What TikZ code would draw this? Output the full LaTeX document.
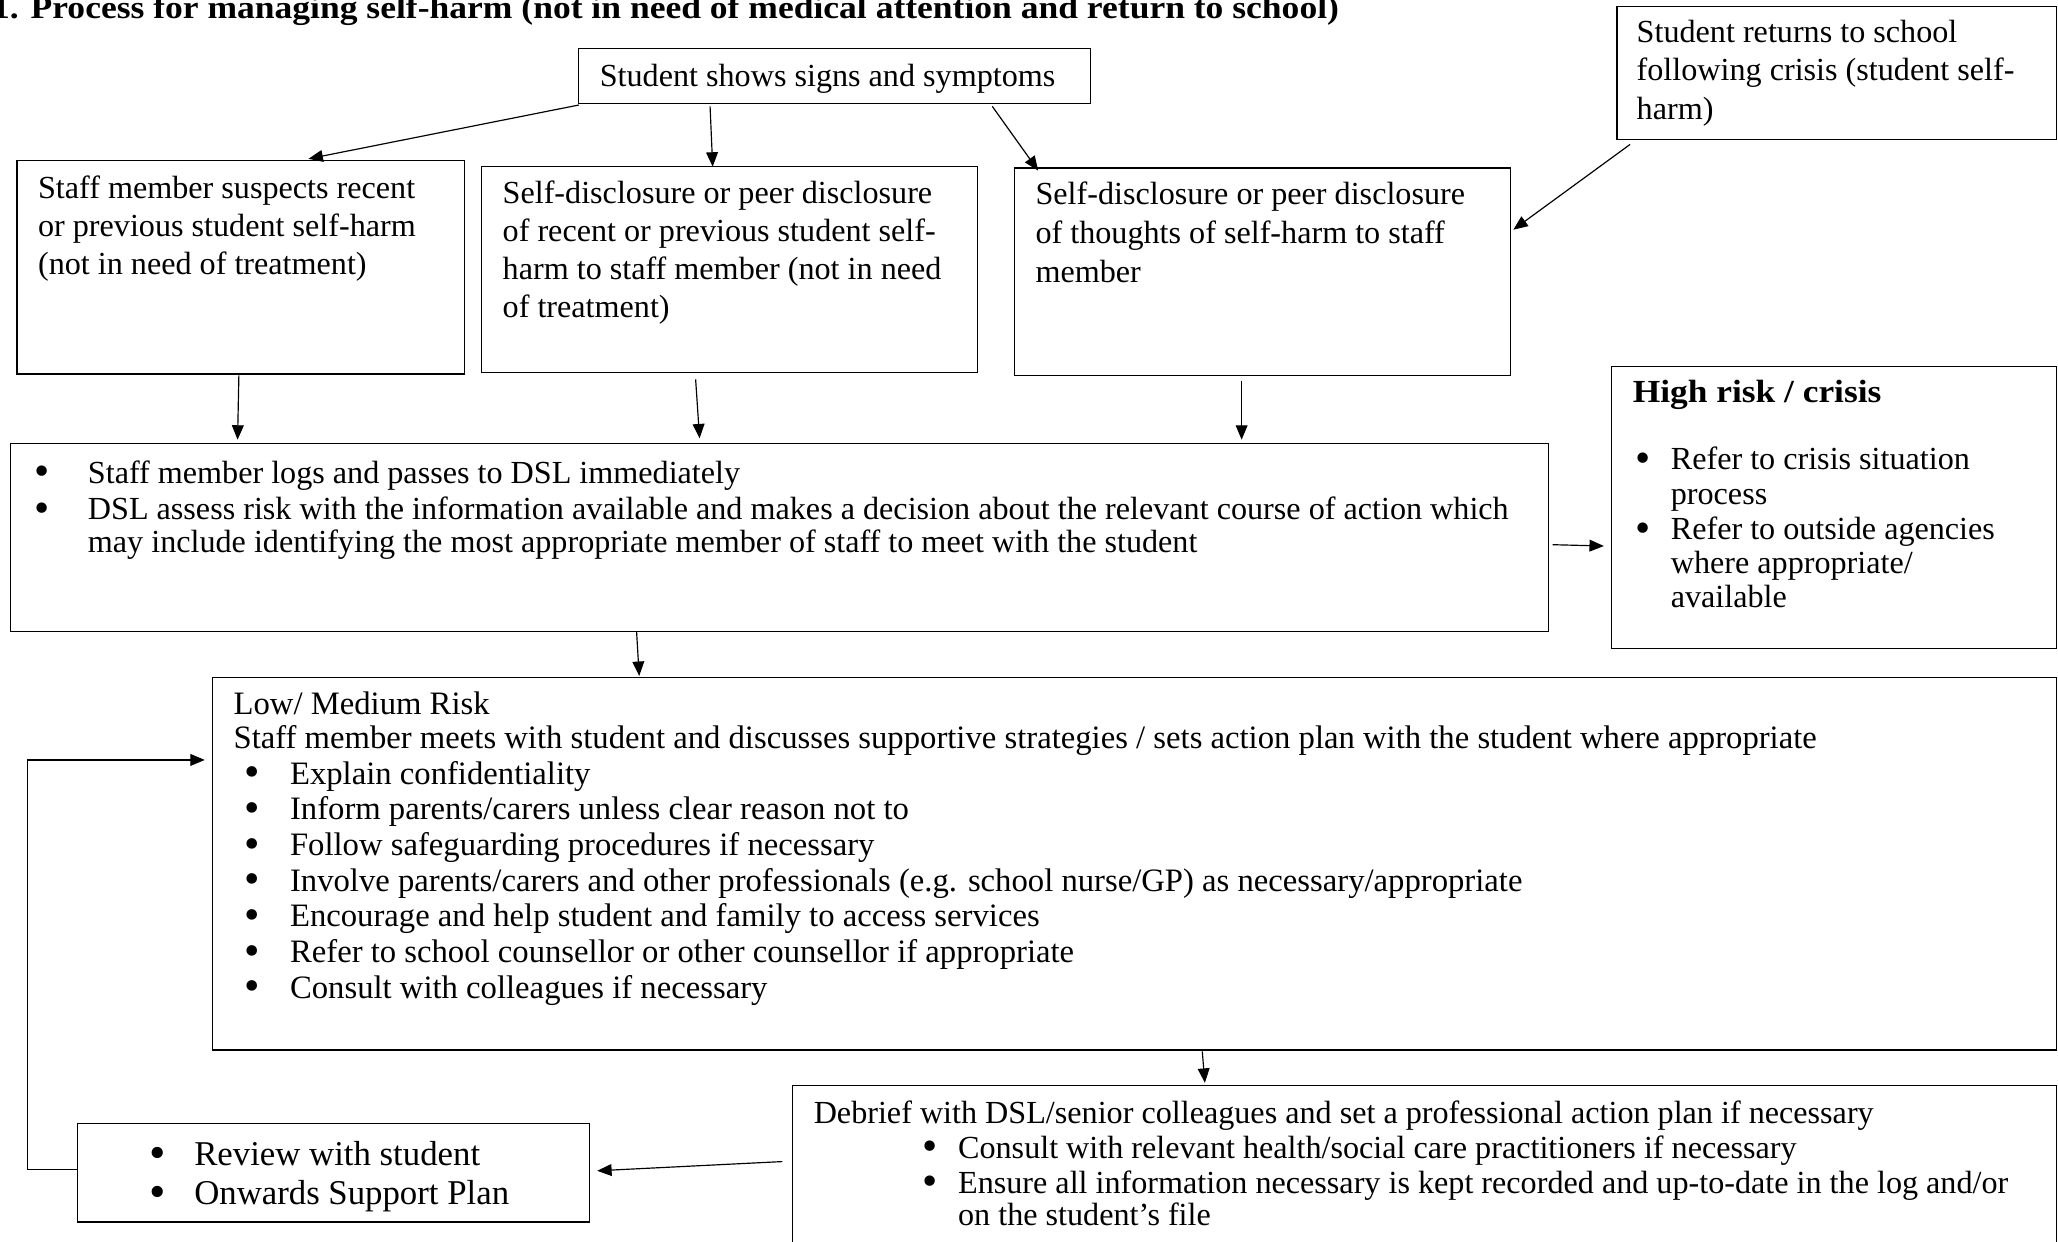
\documentclass[tikz,border=0pt]{standalone}
\usepackage{fontspec}
\usepackage{graphicx}
\setmainfont{Liberation Serif}
\usetikzlibrary{arrows.meta}
\newcommand\fst{\rule{0pt}{20pt}}
\newcommand\bl[1]{\makebox[#1][l]{\smash{\raisebox{-2pt}{\scalebox{1.35}{\textbullet}}}}}
\begin{document}
\begin{tikzpicture}[x=1pt,y=-1pt,
  box/.style={draw=black,line width=0.9pt,inner sep=0pt,outer sep=0pt,anchor=north west},
  txt/.style={anchor=north west,inner sep=0pt,outer sep=0pt,align=left},
  arr/.style={line width=0.9pt,-{Triangle[length=11pt,width=9pt]}},
  plain/.style={line width=0.9pt}]
\useasboundingbox[fill=white] (0,0) rectangle (1568,946);

% title
\node[txt,font=\bfseries\fontsize{24.5}{29}\selectfont] (title) at (-6,-6) {\fst\scalebox{1.105}[1]{1. Process for managing self-harm (not in need of medical attention and return to school)}};

% boxes
\node[box,minimum width=390pt,minimum height=42pt] (A) at (441,37) {};
\node[box,minimum width=335pt,minimum height=101pt] (R) at (1232,5) {};
\node[box,minimum width=341pt,minimum height=163pt] (B1) at (13,122) {};
\node[box,minimum width=378pt,minimum height=157pt] (B2) at (367,127) {};
\node[box,minimum width=378pt,minimum height=158pt] (B3) at (773,128) {};
\node[box,minimum width=1172pt,minimum height=143pt] (C) at (8,338) {};
\node[box,minimum width=339pt,minimum height=215pt] (H) at (1228,279) {};
\node[box,minimum width=1405pt,minimum height=284pt] (L) at (162,516) {};
\node[box,minimum width=963pt,minimum height=140pt] (D) at (604,827) {};
\node[box,minimum width=390pt,minimum height=75pt] (V) at (59,856) {};

% texts
\node[txt,font=\fontsize{24.5}{29}\selectfont] (tA) at (457,46) {\fst Student shows signs and symptoms};
\node[txt,font=\fontsize{24.5}{29.5}\selectfont] (tR) at (1247,12) {\fst Student returns to school\\following crisis (student self-\\harm)};
\node[txt,font=\fontsize{24.5}{29}\selectfont] (tB1) at (29,131) {\fst Staff member suspects recent\\or previous student self-harm\\(not in need of treatment)};
\node[txt,font=\fontsize{24.5}{29}\selectfont] (tB2) at (383,135) {\fst Self-disclosure or peer disclosure\\of recent or previous student self-\\harm to staff member (not in need\\of treatment)};
\node[txt,font=\fontsize{24.5}{29.5}\selectfont] (tB3) at (789,136) {\fst Self-disclosure or peer disclosure\\of thoughts of self-harm to staff\\member};
\node[txt,font=\fontsize{24.5}{25}\selectfont] (tC) at (26,348) {\fst\bl{41pt}Staff member logs and passes to DSL immediately\\[3pt]
\bl{41pt}DSL assess risk with the information available and makes a decision about the relevant course of action which\\
\hspace*{41pt}may include identifying the most appropriate member of staff to meet with the student};
\node[txt,font=\fontsize{24.5}{26}\selectfont] (tH) at (1244,287) {\fst\scalebox{1.1}[1]{\textbf{High risk / crisis}}\\[25pt]
\hspace*{2pt}\bl{27pt}Refer to crisis situation\\
\hspace*{29pt}process\\[1pt]
\hspace*{2pt}\bl{27pt}Refer to outside agencies\\
\hspace*{29pt}where appropriate/\\
\hspace*{29pt}available};
\node[txt,font=\fontsize{24.9}{27.2}\selectfont] (tL) at (178,524) {\fst Low/ Medium Risk\\[-1pt]
Staff member meets with student and discusses supportive strategies / sets action plan with the student where appropriate\\
\hspace*{8pt}\bl{35pt}Explain confidentiality\\
\hspace*{8pt}\bl{35pt}Inform parents/carers unless clear reason not to\\
\hspace*{8pt}\bl{35pt}Follow safeguarding procedures if necessary\\
\hspace*{8pt}\bl{35pt}Involve parents/carers and other professionals (e.g. school nurse/GP) as necessary/appropriate\\
\hspace*{8pt}\bl{35pt}Encourage and help student and family to access services\\
\hspace*{8pt}\bl{35pt}Refer to school counsellor or other counsellor if appropriate\\
\hspace*{8pt}\bl{35pt}Consult with colleagues if necessary};
\node[txt,font=\fontsize{24.5}{26.5}\selectfont] (tD) at (620,836) {\fst Debrief with DSL/senior colleagues and set a professional action plan if necessary\\
\hspace*{83pt}\bl{27pt}Consult with relevant health/social care practitioners if necessary\\
\hspace*{83pt}\bl{27pt}Ensure all information necessary is kept recorded and up-to-date in the log and/or\\[-1.5pt]
\hspace*{110pt}on the student’s file};
\node[txt,font=\fontsize{26.5}{30}\selectfont] (tV) at (114,868) {\fst\bl{34pt}Review with student\\
\bl{34pt}Onwards Support Plan};

% connectors
\draw[arr] ([shift={(0,43)}]A.north west) -- ([shift={(222,-1)}]B1.north west);
\draw[arr] ([shift={(100,44)}]A.north west) -- ([shift={(176,0)}]B2.north west);
\draw[arr] ([shift={(315,44)}]A.north west) -- ([shift={(18,2)}]B3.north west);
\draw[arr] ([shift={(10,105)}]R.north west) -- ([shift={(380,47)}]B3.north west);
\draw[arr] ([shift={(169,164)}]B1.north west) -- ([shift={(173,-3)}]C.north west);
\draw[arr] ([shift={(163,162)}]B2.north west) -- ([shift={(525,-4)}]C.north west);
\draw[arr] ([shift={(173,162)}]B3.north west) -- ([shift={(938,-3)}]C.north west);
\draw[arr] ([shift={(1175,77)}]C.north west) -- ([shift={(-6,137)}]H.north west);
\draw[arr] ([shift={(477,143)}]C.north west) -- ([shift={(325,-1)}]L.north west);
\draw[arr] ([shift={(754,285)}]L.north west) -- ([shift={(314,-2)}]D.north west);
\draw[arr] ([shift={(-8,58)}]D.north west) -- ([shift={(396,36)}]V.north west);
\coordinate (lb) at (21,891);
\coordinate (lt) at (21,579);
\draw[arr] ([shift={(0,35)}]V.north west) -- (lb) -- (lt) -- ([shift={(-6,63)}]L.north west);
\end{tikzpicture}
\end{document}
